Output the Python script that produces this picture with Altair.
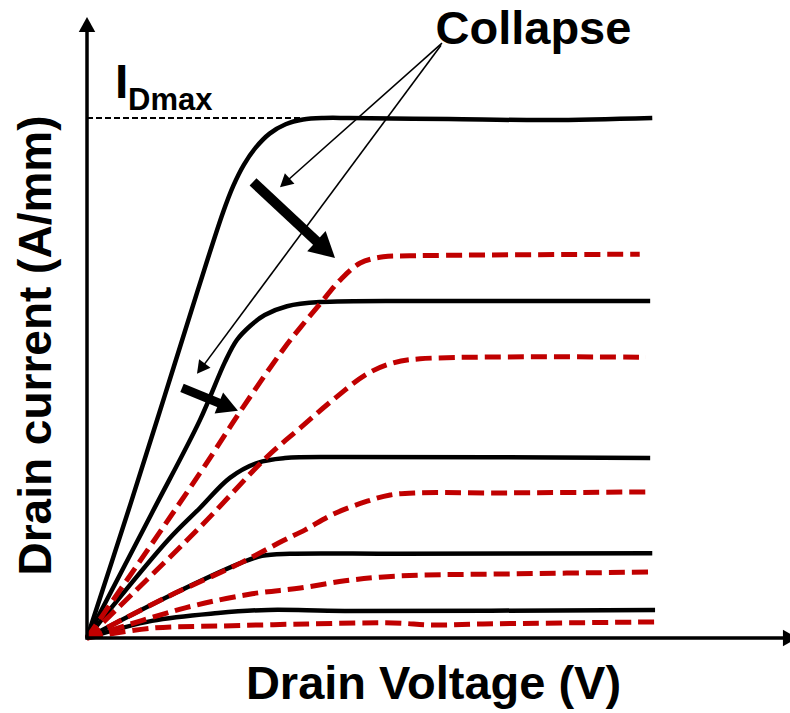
import altair as alt
import pandas as pd

FONT = "Liberation Sans"
RED = "#C00000"

X_TITLE = "Drain Voltage (V)"
Y_TITLE = "Drain current (A/mm)"
LABEL_I = "I"
LABEL_SUB = "Dmax"
LABEL_COLLAPSE = "Collapse"

# Drain voltage (arb. units) vs drain current normalised to I_Dmax.
# DC output curves (solid black), one per gate bias, highest first.
B1_V = [0, 0.62, 1.12, 1.59, 1.95, 2.10, 2.25, 2.42, 2.62, 2.85, 3.10, 3.40, 3.76, 5.19, 6.63, 8.11]
B1_I = [0, 0.256, 0.468, 0.669, 0.818, 0.870, 0.910, 0.943, 0.970, 0.988, 0.997, 1.0, 1.0, 0.998, 0.996, 1.0]
B2_V = [0, 0.93, 1.62, 1.98, 2.15, 2.34, 2.55, 2.87, 3.34, 5.21, 8.08]
B2_I = [0, 0.240, 0.419, 0.531, 0.573, 0.600, 0.621, 0.638, 0.646, 0.648, 0.648]
B3_V = [0, 1.16, 1.62, 2.05, 2.45, 2.84, 3.70, 8.08]
B3_I = [0, 0.188, 0.250, 0.308, 0.337, 0.346, 0.348, 0.346]
B4_V = [0, 1.12, 2.20, 2.51, 2.91, 4.49, 8.11]
B4_I = [0, 0.077, 0.144, 0.158, 0.162, 0.162, 0.163]
B5_V = [0, 0.93, 1.88, 2.60, 3.70, 8.15]
B5_I = [0, 0.033, 0.048, 0.054, 0.052, 0.054]

# Pulsed output curves after collapse (dashed red)
R1_V = [0, 1.62, 2.24, 2.81, 3.06, 3.34, 3.63, 3.92, 4.25, 4.63, 7.93]
R1_I = [0, 0.317, 0.444, 0.554, 0.597, 0.642, 0.688, 0.721, 0.733, 0.735, 0.738]
R2_V = [0, 1.62, 2.58, 3.06, 3.53, 4.02, 4.39, 4.78, 8.02]
R2_I = [0, 0.213, 0.348, 0.404, 0.458, 0.508, 0.529, 0.537, 0.540]
R3_V = [0, 1.12, 2.20, 2.81, 3.13, 3.53, 4.02, 4.35, 4.71, 5.92, 8.01]
R3_I = [0, 0.077, 0.144, 0.187, 0.208, 0.238, 0.263, 0.275, 0.279, 0.279, 0.281]
R4_V = [0, 1.41, 2.37, 3.06, 3.70, 4.20, 4.78, 5.92, 8.08]
R4_I = [0, 0.058, 0.085, 0.096, 0.110, 0.117, 0.121, 0.123, 0.127]
R5_V = [0, 0.93, 1.88, 3.16, 4.39, 4.96, 5.68, 8.22]
R5_I = [0, 0.019, 0.023, 0.027, 0.029, 0.025, 0.027, 0.031]

I_DMAX = 1.0
I_DMAX_LINE_END = 3.06


def curves(pairs, prefix):
    rows = []
    for k, (vs, cs) in enumerate(pairs):
        for v, c in zip(vs, cs):
            rows.append({"v": v, "i": c, "curve": f"{prefix}{k}"})
    return pd.DataFrame(rows)


fresh = curves([(B1_V, B1_I), (B2_V, B2_I), (B3_V, B3_I), (B4_V, B4_I), (B5_V, B5_I)], "dc")
pulsed = curves([(R1_V, R1_I), (R2_V, R2_I), (R3_V, R3_I), (R4_V, R4_I), (R5_V, R5_I)], "pulse")

x_scale = alt.Scale(domain=[0, 10], nice=False, zero=False)
y_scale = alt.Scale(domain=[0, 1.2], nice=False, zero=False)

x_axis = alt.Axis(
    title=X_TITLE, domain=False, ticks=False, labels=False, grid=False,
    titleFont=FONT, titleFontSize=47, titleFontWeight="bold", titleColor="black",
    titleX=346, titleY=60, titleAlign="center", titleBaseline="alphabetic",
)
y_axis = alt.Axis(
    title=Y_TITLE, domain=False, ticks=False, labels=False, grid=False,
    titleFont=FONT, titleFontSize=46, titleFontWeight="bold", titleColor="black",
    titleAngle=270, titleX=-37, titleY=331, titleAlign="center", titleBaseline="alphabetic",
)


def X(field):
    return alt.X(field, type="quantitative", scale=x_scale, axis=x_axis)


def Y(field):
    return alt.Y(field, type="quantitative", scale=y_scale, axis=y_axis)


fresh_lines = alt.Chart(fresh).mark_line(
    color="black", strokeWidth=4.5, interpolate="catmull-rom"
).encode(x=X("v"), y=Y("i"), detail="curve:N")

pulsed_lines = alt.Chart(pulsed).mark_line(
    color=RED, strokeWidth=5, strokeDash=[16, 7], interpolate="catmull-rom"
).encode(x=X("v"), y=Y("i"), detail="curve:N")

# Axis lines with arrow heads
axis_lines = pd.DataFrame({
    "x": [-0.02, 0.0], "y": [0.0, -0.003],
    "x2": [10.1, 0.0], "y2": [0.0, 1.177],
})
axes = alt.Chart(axis_lines).mark_rule(color="black", strokeWidth=3.5).encode(
    x=X("x"), y=Y("y"), x2="x2:Q", y2="y2:Q"
)

# I_Dmax reference line
idmax_df = pd.DataFrame({"x": [0.0], "x2": [I_DMAX_LINE_END], "y": [I_DMAX]})
idmax_line = alt.Chart(idmax_df).mark_rule(
    color="black", strokeWidth=1.8, strokeDash=[6, 3]
).encode(x=X("x"), x2="x2:Q", y=Y("y"))

# Arrow shafts: two thick "collapse" arrows and two thin pointers from the label
shafts = pd.DataFrame({
    "x": [2.382, 1.363, 5.093, 5.079],
    "y": [0.877, 0.481, 1.144, 1.140],
    "x2": [3.430, 2.020, 2.844, 1.638],
    "y2": [0.746, 0.445, 0.876, 0.518],
    "w": [10, 9, 1.6, 1.6],
})
shaft_marks = alt.Chart(shafts).mark_rule(color="black", strokeCap="butt").encode(
    x=X("x"), y=Y("y"), x2="x2:Q", y2="y2:Q",
    strokeWidth=alt.StrokeWidth("w:Q", scale=None),
)

# Arrow heads: tip sits on the data point, pointing along +x before rotation
HEAD = "M0,0L-1,-0.55L-1,0.55Z"
heads = pd.DataFrame({
    "x": [3.558, 2.166, 2.769, 1.578, 10.2, 0.0],
    "y": [0.731, 0.437, 0.867, 0.508, 0.0, 1.194],
    "angle": [42, 22, 138, 127, 0, 270],
    "size": [2500, 1700, 676, 676, 900, 900],
})
head_marks = alt.Chart(heads).mark_point(
    shape=HEAD, filled=True, color="black", opacity=1, strokeWidth=0
).encode(
    x=X("x"), y=Y("y"),
    angle=alt.Angle("angle:Q", scale=None),
    size=alt.Size("size:Q", scale=None),
)

labels = pd.DataFrame({
    "x": [0.40, 0.59, 5.0],
    "y": [1.038, 1.015, 1.142],
    "text": [LABEL_I, LABEL_SUB, LABEL_COLLAPSE],
    "fs": [48, 31, 47],
})
label_marks = alt.Chart(labels).mark_text(
    font=FONT, fontWeight="bold", color="black", align="left", baseline="alphabetic"
).encode(
    x=X("x"), y=Y("y"), text="text:N",
    size=alt.Size("fs:Q", scale=None),
)

chart = alt.layer(
    idmax_line, fresh_lines, pulsed_lines, axes, shaft_marks, head_marks, label_marks
).properties(
    width=697,
    height=624,
    padding={"left": 87, "top": 14, "right": 6, "bottom": 75},
    autosize=alt.AutoSizeParams(type="none"),
    background="white",
).configure_view(stroke=None)

chart.save("out.html", embed_options={"renderer": "svg", "actions": False})
